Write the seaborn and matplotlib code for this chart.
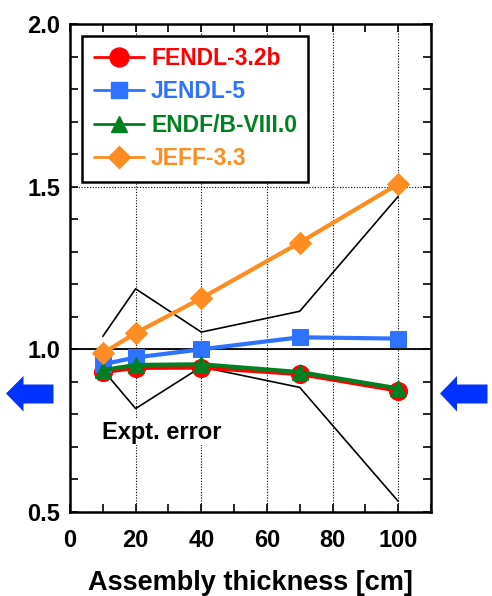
import matplotlib
matplotlib.use("Agg")
import matplotlib.pyplot as plt
import seaborn as sns
import numpy as np
import pandas as pd
from matplotlib.patches import Polygon
from matplotlib.lines import Line2D
from matplotlib.ticker import MultipleLocator

# ---- data ----
thickness = [10, 20, 40, 70, 100]
fendl = [0.930, 0.943, 0.944, 0.924, 0.873]
jendl = [0.954, 0.975, 1.000, 1.037, 1.033]
endf = [0.936, 0.952, 0.954, 0.930, 0.880]
jeff = [0.988, 1.050, 1.157, 1.328, 1.508]
err_upper = [1.040, 1.186, 1.053, 1.117, 1.470]
err_lower = [0.937, 0.818, 0.946, 0.883, 0.533]

series_names = ["FENDL-3.2b", "JENDL-5", "ENDF/B-VIII.0", "JEFF-3.3"]
series_vals = [fendl, jendl, endf, jeff]
colors = ["#ff0000", "#2e72ff", "#008020", "#ff8c21"]
markers = ["o", "s", "^", "D"]
msizes = [13, 11.5, 11.5, 11]

x_ticks = [0, 20, 40, 60, 80, 100]
y_ticks = [0.5, 1.0, 1.5, 2.0]

sns.set_theme(style="white")
plt.rcParams["font.family"] = ["Liberation Sans", "DejaVu Sans"]
plt.rcParams["font.weight"] = "bold"
for k in ["text.color", "axes.labelcolor", "xtick.color", "ytick.color", "axes.edgecolor"]:
    plt.rcParams[k] = "black"

fig = plt.figure(figsize=(4.92, 5.96), dpi=100)
ax = fig.add_axes([70 / 492, 1 - 512 / 596, 361 / 492, 488 / 596])

# expt error envelope
sns.lineplot(x=thickness, y=err_upper, ax=ax, color="black", lw=1.2, zorder=3)
sns.lineplot(x=thickness, y=err_lower, ax=ax, color="black", lw=1.2, zorder=3)

for i in range(4):
    sns.lineplot(x=thickness, y=series_vals[i], ax=ax, color=colors[i], lw=3,
                 marker=markers[i], markersize=msizes[i], markeredgecolor=colors[i],
                 zorder=5 + i)

ax.axhline(1.0, color="black", lw=1.3, zorder=2)

ax.set_xlim(0, 110)
ax.set_ylim(0.5, 2.0)
ax.set_xticks(x_ticks)
ax.set_yticks(y_ticks)
ax.set_yticklabels([f"{v:.1f}" for v in y_ticks])
ax.xaxis.set_minor_locator(MultipleLocator(10))
ax.yaxis.set_minor_locator(MultipleLocator(0.1))
ax.tick_params(which="both", direction="in", length=6, width=1.2, color="black",
               labelcolor="black", top=True, right=True, bottom=True, left=True)
ax.tick_params(axis="x", which="major", labelsize=17, pad=12)
ax.tick_params(axis="y", which="major", labelsize=17, pad=7)
for lab in ax.get_xticklabels() + ax.get_yticklabels():
    lab.set_fontweight("bold")

ax.grid(True, which="major", linestyle=(0, (1, 1.5)), color="black", lw=0.8)
for s in ax.spines.values():
    s.set_color("black")
    s.set_linewidth(1.8)

ax.set_xlabel("Assembly thickness [cm]", fontsize=19.5, fontweight="bold",
              labelpad=13, color="black")

ax.text(28, 0.745, "Expt. error", fontsize=17, fontweight="bold", ha="center", va="center",
        color="black", bbox=dict(facecolor="white", edgecolor="none", pad=1), zorder=4)

handles = [Line2D([], [], color=colors[i], lw=2, marker=markers[i],
                  markersize=msizes[i] * 1.05, markeredgecolor=colors[i])
           for i in range(4)]
leg = ax.legend(handles, series_names, loc="upper left", bbox_to_anchor=(0.034, 0.976),
                borderaxespad=0, frameon=True, fancybox=False, framealpha=1,
                edgecolor="black", handlelength=2.2, handletextpad=0.3,
                labelspacing=0.45, borderpad=0.5, prop=dict(size=16.5, weight="bold"))
leg.get_frame().set_linewidth(1.8)
for t, c in zip(leg.get_texts(), colors):
    t.set_color(c)
leg.set_zorder(20)

# blue arrows (figure decorations)
W, H = 492, 596
def arrow(tip_x, head_x, tail_x):
    pts = [(tip_x, 393.5), (head_x, 376), (head_x, 384.5), (tail_x, 384.5),
           (tail_x, 403.5), (head_x, 403.5), (head_x, 411.5)]
    return Polygon([(px / W, 1 - py / H) for px, py in pts], closed=True,
                   transform=fig.transFigure, facecolor="#0033ff", edgecolor="none")
fig.patches.append(arrow(6, 23.5, 53.5))
fig.patches.append(arrow(440, 457, 487.5))

fig.savefig("out.png", dpi=100)
